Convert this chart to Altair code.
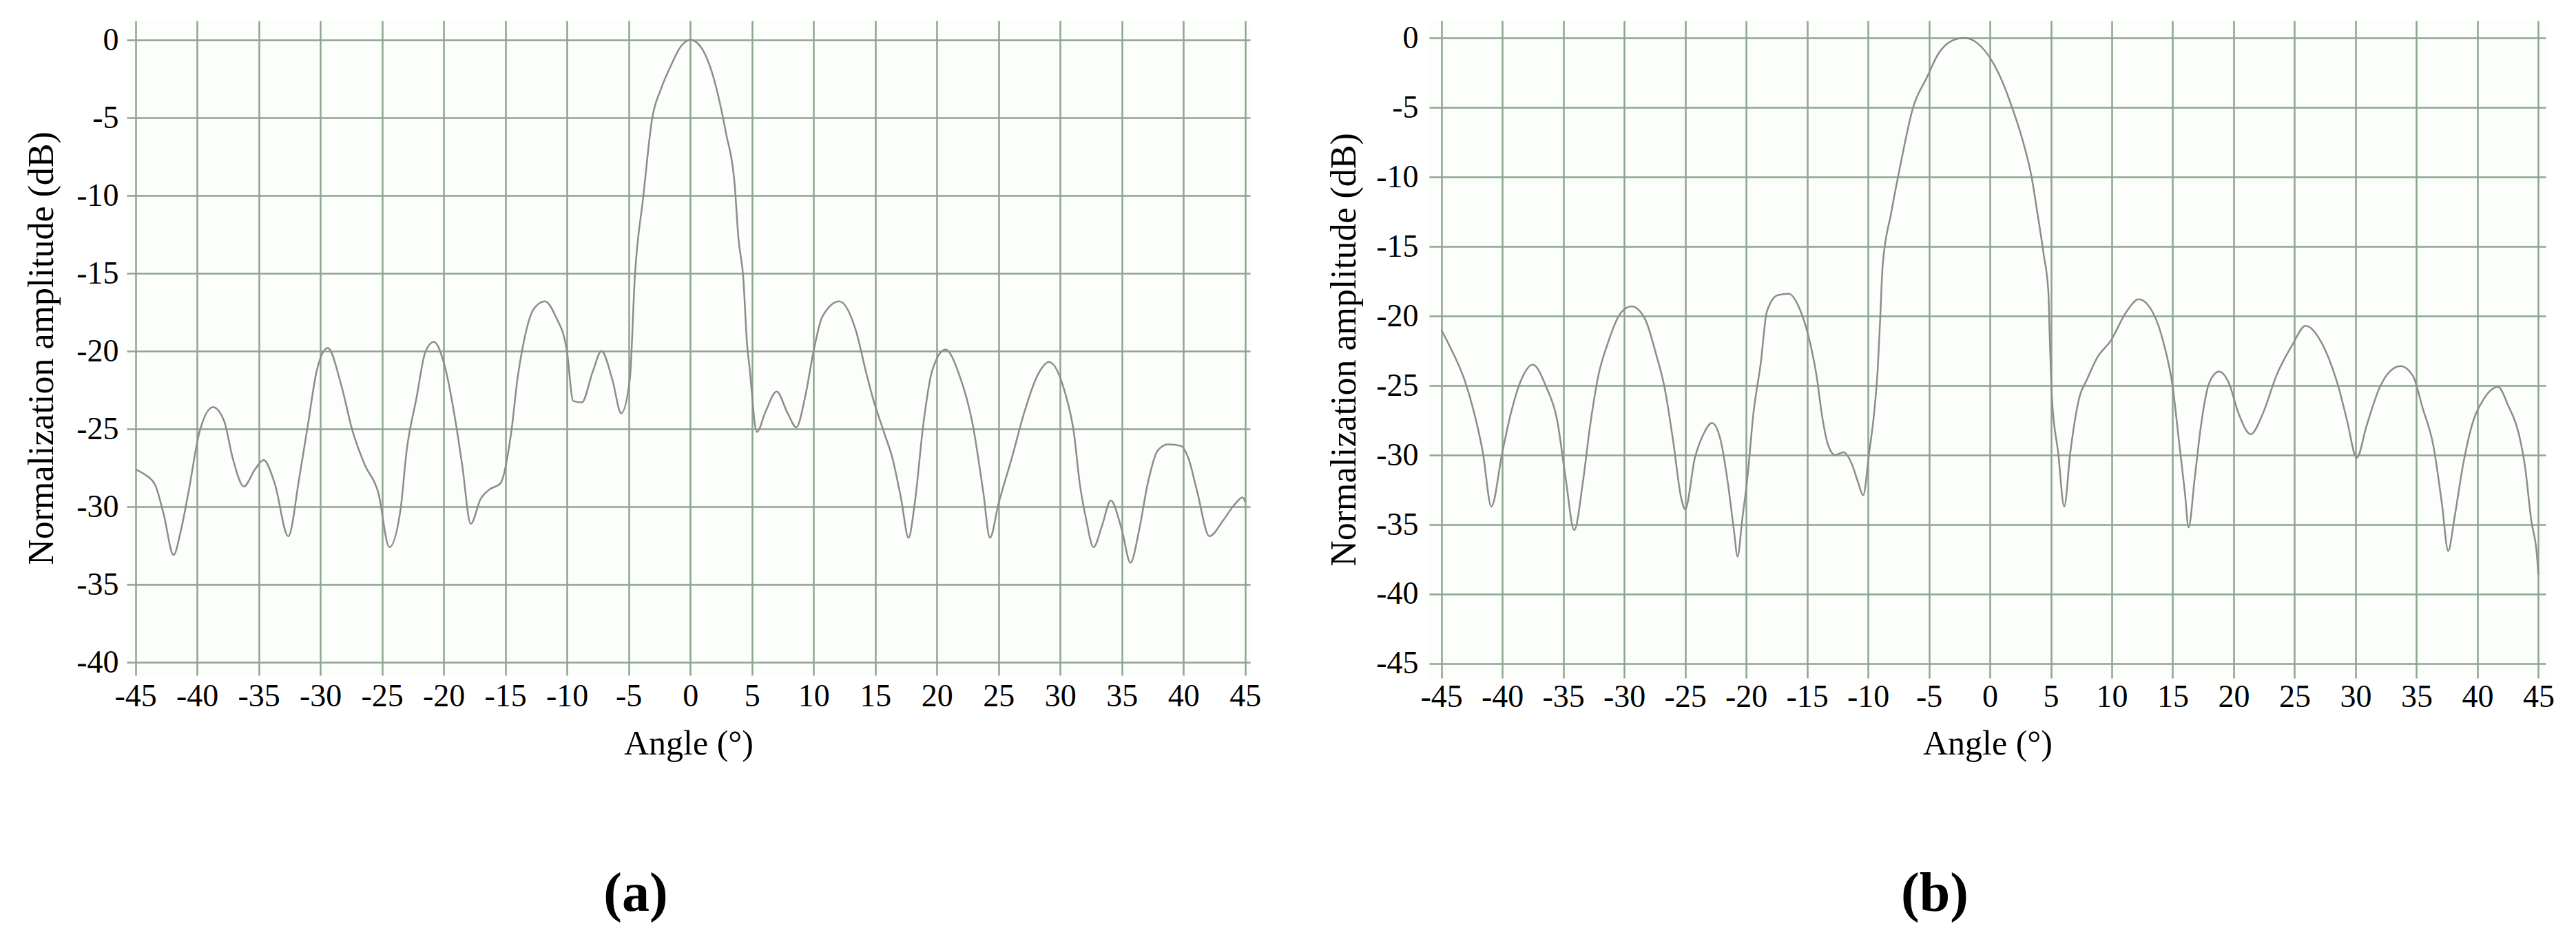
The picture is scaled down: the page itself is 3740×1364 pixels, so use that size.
import altair as alt
import pandas as pd

# ---------------- data ----------------
angle_a = [-45.0, -44.3, -43.4, -42.7, -41.9, -41.3, -40.7, -39.8, -38.7, -37.8,
           -37.1, -36.2, -35.3, -34.6, -33.7, -32.6, -31.7, -31.0, -30.3, -29.4,
           -28.3, -27.4, -26.4, -25.3, -24.4, -23.5, -23.0, -22.2, -21.5, -20.8,
           -19.9, -19.0, -18.5, -17.8, -17.0, -16.3, -15.4, -14.5, -14.0, -13.6,
           -12.7, -11.8, -10.9, -10.0, -9.5, -8.8, -7.9, -7.2, -6.3, -5.6,
           -4.9, -4.5, -3.8, -3.1, -2.35, -1.6, -0.75, 0.0, 0.7, 1.6,
           2.9, 3.6, 3.9, 4.3, 4.6, 4.8, 5.4, 6.1, 7.0, 7.9,
           8.6, 9.3, 10.0, 10.7, 12.1, 13.4, 14.3, 14.8, 15.7, 16.4,
           17.1, 17.7, 18.2, 18.9, 19.6, 20.7, 21.8, 22.9, 23.75, 24.3,
           25.0, 26.1, 27.1, 28.2, 29.1, 30.4, 31.1, 31.6, 32.1, 32.7,
           33.4, 34.1, 35.0, 35.7, 36.4, 37.1, 37.9, 38.75, 39.8, 40.4,
           41.1, 42.1, 43.2, 44.1, 44.8, 45.0]
db_a = [-27.6, -27.9, -28.6, -30.5, -33.1, -31.5, -29.1, -25.2, -23.6, -24.5,
        -26.9, -28.7, -27.6, -27.0, -28.5, -31.9, -28.1, -24.7, -21.3, -19.8,
        -22.2, -25.1, -27.3, -29.1, -32.6, -30.2, -26.4, -23.0, -20.1, -19.4,
        -21.0, -24.7, -27.3, -31.1, -29.5, -28.9, -28.5, -25.1, -21.7, -19.8,
        -17.3, -16.8, -17.8, -20.0, -23.2, -23.3, -21.3, -20.0, -21.9, -24.0,
        -21.8, -15.3, -10.0, -5.1, -3.1, -1.7, -0.4, 0.0, -0.3, -1.7,
        -6.0, -9.3, -12.7, -15.3, -19.5, -21.0, -25.2, -23.9, -22.6, -24.0,
        -24.9, -23.0, -20.0, -17.8, -16.8, -18.6, -21.5, -23.0, -25.2, -26.9,
        -29.5, -32.0, -29.8, -24.7, -21.3, -19.9, -21.5, -24.7, -29.0, -32.0,
        -29.8, -26.8, -23.9, -21.5, -20.7, -22.7, -25.2, -28.6, -30.8, -32.6,
        -31.2, -29.6, -31.5, -33.6, -31.5, -28.5, -26.4, -26.0, -26.1, -26.9,
        -29.0, -31.9, -30.9, -29.9, -29.4, -29.7]

angle_b = [-45.0, -44.3, -43.1, -42.3, -41.6, -40.9, -40.0, -39.3, -38.5, -37.5,
           -36.4, -35.5, -34.8, -34.1, -33.4, -32.8, -32.1, -31.4, -30.3, -29.4,
           -28.3, -27.4, -26.7, -26.0, -25.3, -25.0, -24.2, -23.5, -22.8, -22.1,
           -21.5, -21.0, -20.7, -20.3, -19.9, -19.4, -18.8, -18.3, -17.4, -16.5,
           -15.6, -14.9, -14.2, -13.8, -13.3, -12.7, -12.0, -11.3, -10.8, -10.4,
           -9.9, -9.5, -9.2, -9.0, -8.8, -8.1, -7.4, -6.3, -5.2, -4.2,
           -3.1, -2.1, -1.0, 0.2, 1.0, 1.9, 2.7, 3.4, 3.9, 4.4,
           4.8, 4.9, 5.1, 5.6, 6.1, 6.6, 7.3, 8.0, 8.8, 9.9,
           11.2, 12.2, 13.4, 14.3, 15.0, 15.5, 16.0, 16.3, 16.8, 17.3,
           18.0, 18.8, 19.6, 20.4, 21.4, 22.4, 23.5, 24.8, 25.9, 27.2,
           28.2, 28.6, 29.3, 30.1, 30.9, 32.0, 32.8, 33.7, 34.7, 35.5,
           36.4, 37.1, 37.6, 38.1, 38.8, 39.5, 40.5, 41.7, 42.5, 43.4,
           43.9, 44.4, 44.9, 45.0]
db_b = [-21.0, -22.2, -24.6, -27.0, -29.8, -33.7, -29.8, -27.0, -24.7, -23.5,
        -25.1, -27.5, -31.7, -35.4, -32.0, -27.9, -24.2, -22.1, -19.8, -19.3,
        -20.2, -22.7, -25.1, -28.9, -33.2, -33.9, -30.2, -28.5, -27.7, -28.9,
        -32.0, -35.4, -37.3, -34.5, -31.7, -27.0, -23.4, -19.7, -18.5, -18.4,
        -19.5, -21.4, -24.4, -27.0, -29.2, -30.0, -29.8, -30.7, -32.0, -32.9,
        -29.8, -27.0, -23.8, -20.2, -16.4, -12.6, -9.4, -5.0, -2.9, -1.1,
        -0.2, 0.0, -0.4, -1.7, -3.1, -5.2, -7.4, -9.9, -12.6, -15.5,
        -18.3, -21.2, -26.0, -29.8, -33.7, -29.8, -26.0, -24.5, -23.0, -21.8,
        -19.7, -18.8, -19.8, -22.1, -25.1, -28.9, -32.7, -35.2, -31.7, -28.0,
        -24.8, -24.0, -24.8, -27.0, -28.5, -27.0, -24.3, -22.1, -20.7, -21.9,
        -24.0, -25.1, -27.5, -30.2, -27.9, -25.1, -24.0, -23.6, -24.3, -26.6,
        -29.4, -33.6, -36.9, -34.6, -30.8, -28.0, -26.0, -25.1, -26.4, -28.5,
        -30.8, -34.6, -37.4, -38.6]

x_ticks = [-45, -40, -35, -30, -25, -20, -15, -10, -5, 0, 5, 10, 15, 20, 25, 30, 35, 40, 45]
y_ticks_a = [-40, -35, -30, -25, -20, -15, -10, -5, 0]
y_ticks_b = [-45, -40, -35, -30, -25, -20, -15, -10, -5, 0]

x_title = "Angle (°)"
y_title = "Normalization amplitude (dB)"
captions = ["(a)", "(b)"]

FONT = "Liberation Serif"
GRID = "#8ea58e"
LINE = "#8c8c8c"
LABEL_EXPR = "'' + datum.value"   # plain hyphen-minus, as in the reference


def panel(angles, dbs, xdom, ydom, w, h, yticks, ylabpad, ytitlepad,
          xlabpad, xtitlepad, caption, cap_dx, cap_off):
    df = pd.DataFrame({"angle": angles, "db": dbs})
    x_axis = alt.Axis(values=x_ticks, title=x_title, grid=True, ticks=False,
                      domain=False, labelPadding=xlabpad, titlePadding=xtitlepad,
                      labelFont=FONT, titleFont=FONT, labelFontSize=46,
                      titleFontSize=50, titleFontWeight="normal",
                      labelColor="black", titleColor="black",
                      gridColor=GRID, gridWidth=2.5, gridOpacity=1,
                      labelFlush=False, labelOverlap=False, labelExpr=LABEL_EXPR)
    y_axis = alt.Axis(values=yticks, title=y_title, grid=True, ticks=False,
                      domain=False, labelPadding=ylabpad, titlePadding=ytitlepad,
                      labelFont=FONT, titleFont=FONT, labelFontSize=46,
                      titleFontSize=52, titleFontWeight="normal",
                      labelColor="black", titleColor="black",
                      gridColor=GRID, gridWidth=2.5, gridOpacity=1,
                      titleAngle=270, titleBaseline="bottom", titleAlign="center",
                      labelFlush=False, labelOverlap=False, labelExpr=LABEL_EXPR)
    return (
        alt.Chart(df)
        .mark_line(color=LINE, strokeWidth=2.5, clip=True, interpolate="monotone")
        .encode(
            x=alt.X("angle:Q", scale=alt.Scale(domain=xdom, nice=False, zero=False), axis=x_axis),
            y=alt.Y("db:Q", scale=alt.Scale(domain=ydom, nice=False, zero=False), axis=y_axis),
        )
        .properties(
            width=w, height=h,
            title=alt.TitleParams(text=caption, orient="bottom", anchor="middle",
                                  dx=cap_dx, offset=cap_off, font=FONT,
                                  fontSize=80, fontWeight="bold", color="black"),
        )
    )


chart_a = panel(angle_a, db_a, [-45.7, 45.4], [-40.84, 1.24], 1631, 951,
                y_ticks_a, 12, 22.7, 8, 21.5, captions[0], -76.5, 154)
chart_b = panel(angle_b, db_b, [-46.0, 45.6], [-46.04, 1.24], 1621, 955,
                y_ticks_b, 16, 18.7, 5, 20.5, captions[1], -76.5, 154)

chart = (
    alt.hconcat(chart_a, chart_b, spacing=260, bounds="flush")
    .properties(padding={"left": 26, "top": 21, "right": 5, "bottom": 5},
                background="white")
    .configure_view(fill="#fbfefa", stroke="transparent")
)

chart.save("out.html", embed_options={"renderer": "svg", "actions": False})
